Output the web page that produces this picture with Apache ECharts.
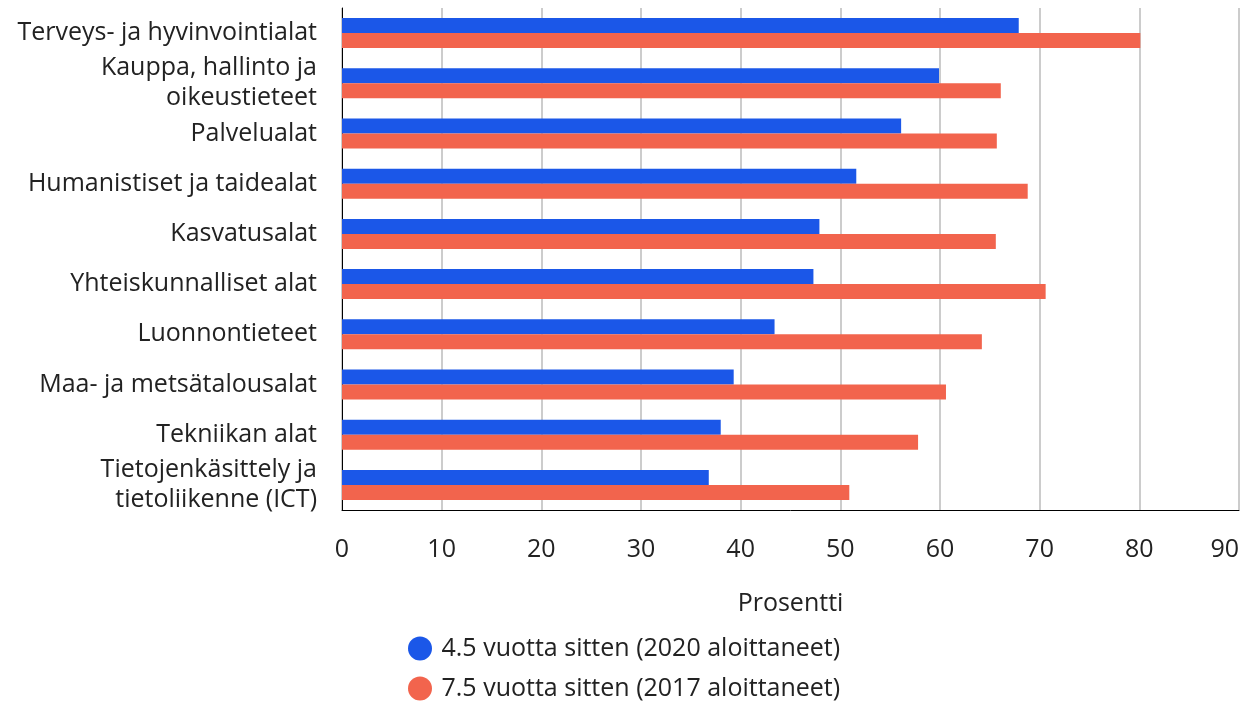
<!DOCTYPE html>
<html>
<head>
<meta charset="utf-8">
<script src="https://cdn.jsdelivr.net/npm/echarts@6/dist/echarts.min.js"></script>
<style>
  html, body { margin: 0; padding: 0; background: #fff; }
  #chart { width: 1241px; height: 702px; }
</style>
</head>
<body>
<div id="chart"></div>
<script>
// Fields of study, top to bottom
const categories = [
  'Terveys- ja hyvinvointialat',
  'Kauppa, hallinto ja\noikeustieteet',
  'Palvelualat',
  'Humanistiset ja taidealat',
  'Kasvatusalat',
  'Yhteiskunnalliset alat',
  'Luonnontieteet',
  'Maa- ja metsätalousalat',
  'Tekniikan alat',
  'Tietojenkäsittely ja\ntietoliikenne (ICT)'
];

const seriesNames = [
  '4.5 vuotta sitten (2020 aloittaneet)',
  '7.5 vuotta sitten (2017 aloittaneet)'
];

// Share of graduates, percent
const values2020 = [67.9, 59.9, 56.1, 51.6, 47.9, 47.3, 43.4, 39.3, 38.0, 36.8];
const values2017 = [80.1, 66.1, 65.7, 68.8, 65.6, 70.6, 64.2, 60.6, 57.8, 50.9];

const xTicks = { min: 0, max: 90, interval: 10 };
const axisName = 'Prosentti';

const FONT = '"Open Sans", "Noto Sans", sans-serif';
const TEXT = '#222222';
const FS = 25;

const chart = echarts.init(document.getElementById('chart'), null, { renderer: 'canvas' });

chart.setOption({
  animation: false,
  textStyle: { fontFamily: FONT },
  grid: { left: 342, right: 2, top: 8, bottom: 192, containLabel: false, outerBoundsMode: 'none' },
  legend: {
    orient: 'vertical',
    left: 408,
    top: 636,
    height: 70,
    padding: 0,
    icon: 'circle',
    itemWidth: 25,
    itemHeight: 24,
    itemGap: 15,
    textStyle: { fontFamily: FONT, fontSize: FS, color: TEXT, padding: [0, 0, 0, 4] },
    data: seriesNames
  },
  xAxis: {
    type: 'value',
    min: xTicks.min,
    max: xTicks.max,
    interval: xTicks.interval,
    name: axisName,
    nameLocation: 'middle',
    nameGap: 81,
    nameTextStyle: { fontFamily: FONT, fontSize: FS, color: TEXT },
    axisLine: { show: true, lineStyle: { color: '#000', width: 1 } },
    axisTick: { show: false },
    axisLabel: { fontFamily: FONT, fontSize: FS, color: TEXT, margin: 27, alignMaxLabel: 'right' },
    splitLine: { show: true, lineStyle: { color: '#cccccc', width: 2 } }
  },
  yAxis: {
    type: 'category',
    data: categories,
    inverse: true,
    axisLine: { show: true, onZero: false, lineStyle: { color: '#000', width: 1 } },
    axisTick: { show: false },
    axisLabel: {
      fontFamily: FONT, fontSize: FS, color: TEXT, margin: 25,
      lineHeight: 30, align: 'right'
    },
    splitLine: { show: false }
  },
  series: [
    {
      name: seriesNames[0],
      type: 'bar',
      data: values2020,
      barWidth: 15,
      barGap: '0%',
      barCategoryGap: '40%',
      itemStyle: { color: '#1b57e8' }
    },
    {
      name: seriesNames[1],
      type: 'bar',
      data: values2017,
      barWidth: 15,
      barGap: '0%',
      barCategoryGap: '40%',
      itemStyle: { color: '#f2644d' }
    }
  ]
});
</script>
</body>
</html>
